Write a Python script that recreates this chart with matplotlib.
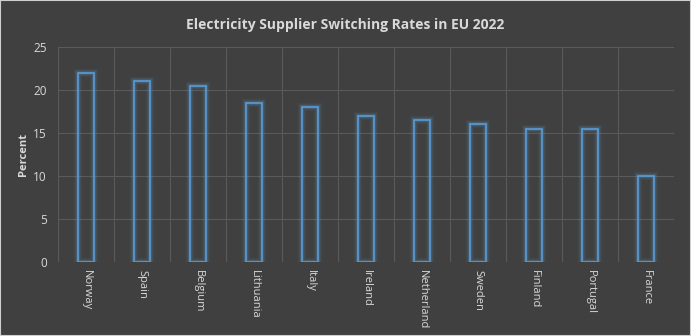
import matplotlib.pyplot as plt
import numpy as np

countries = ["Norway", "Spain", "Belgium", "Lithuania", "Italy", "Ireland",
             "Netherland", "Sweden", "Finland", "Portugal", "France"]
rates = [22, 21, 20.5, 18.5, 18, 17, 16.5, 16, 15.5, 15.5, 10]

bg = "#404040"
txt = "#d9d9d9"
grid = "#5a5a5a"
blue = "#5b9bd5"

fig = plt.figure(figsize=(6.91, 3.36), dpi=100, facecolor=bg)
ax = fig.add_axes([0.0839, 0.2202, 0.8915, 0.6398])
ax.set_facecolor(bg)

x = np.arange(len(countries))
w = 0.27

# glow around the bars
for lw, a in [(6, 0.06), (4.5, 0.1), (3, 0.18)]:
    ax.bar(x, rates, width=w, facecolor="none", edgecolor=blue, linewidth=lw, alpha=a, zorder=3)
ax.bar(x, rates, width=w, facecolor="none", edgecolor=blue, linewidth=1.2, zorder=4)

ax.set_xlim(-0.5, len(countries) - 0.5)
ax.set_ylim(0, 25)
ax.set_yticks([0, 5, 10, 15, 20, 25])
ax.set_xticks(x)
ax.set_xticklabels(countries, rotation=-90, fontsize=8, color=txt, family="Open Sans")
ax.set_xticks(np.arange(-0.5, len(countries)), minor=True)
ax.tick_params(axis="x", which="both", length=0, pad=6)
ax.tick_params(axis="y", length=0, labelsize=8.5, labelcolor=txt, pad=8)
for t in ax.get_yticklabels():
    t.set_family("Open Sans")

ax.grid(axis="y", which="major", color=grid, linewidth=0.8, zorder=0)
ax.grid(axis="x", which="minor", color=grid, linewidth=0.8, zorder=0)
for s in ax.spines.values():
    s.set_visible(False)

ax.set_ylabel("Percent", fontsize=8, fontweight="bold", color=txt, family="Open Sans", labelpad=3)
fig.suptitle("Electricity Supplier Switching Rates in EU 2022", y=0.945, fontsize=10,
             fontweight="bold", color=txt, family="Open Sans")

# thin light frame round the image
fig.patches.append(plt.Rectangle((0, 0), 1, 1, transform=fig.transFigure, fill=False,
                                 edgecolor="#cfcfcf", linewidth=1.5))

fig.savefig("out.png", dpi=100, facecolor=bg)
